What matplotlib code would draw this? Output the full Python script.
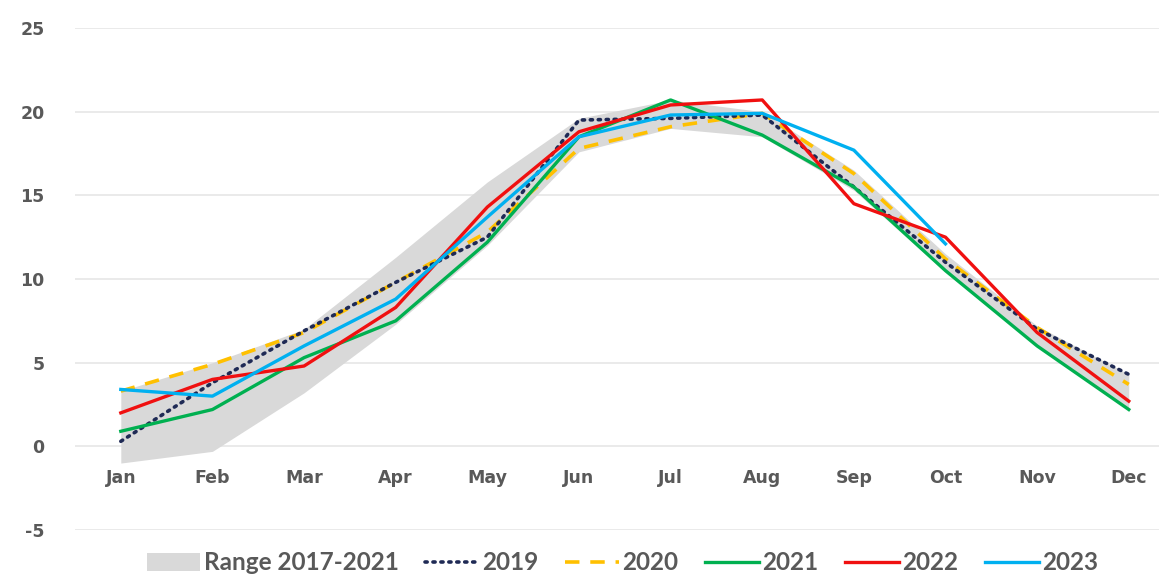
import matplotlib
matplotlib.use("Agg")
import matplotlib.pyplot as plt
from matplotlib.patches import Patch
from matplotlib.lines import Line2D

plt.rcParams["axes.unicode_minus"] = False

# data
months = ["Jan", "Feb", "Mar", "Apr", "May", "Jun", "Jul", "Aug", "Sep", "Oct", "Nov", "Dec"]
range_min = [-1.0, -0.3, 3.2, 7.3, 12.0, 17.6, 19.0, 18.5, 15.3, 10.4, 6.0, 2.2]
range_max = [3.3, 5.0, 7.0, 11.3, 15.8, 19.6, 20.7, 20.0, 16.5, 11.5, 7.2, 4.3]
y2019 = [0.3, 3.8, 6.9, 9.8, 12.5, 19.5, 19.6, 19.8, 15.5, 11.0, 7.0, 4.3]
y2020 = [3.3, 4.9, 6.8, 9.8, 12.8, 17.8, 19.1, 19.9, 16.3, 11.2, 7.1, 3.7]
y2021 = [0.9, 2.2, 5.3, 7.5, 12.2, 18.5, 20.7, 18.6, 15.5, 10.5, 6.0, 2.2]
y2022 = [2.0, 4.0, 4.8, 8.3, 14.3, 18.8, 20.4, 20.7, 14.5, 12.5, 6.8, 2.7]
y2023 = [3.4, 3.0, 6.0, 8.8, 13.7, 18.5, 19.8, 19.9, 17.7, 12.1]

x = list(range(len(months)))

fig = plt.figure(figsize=(11.59, 5.85), dpi=100)
ax = fig.add_axes([75 / 1159, 1 - 530 / 585, 1 - 75 / 1159, (530 - 28) / 585])

ax.fill_between(x, range_min, range_max, color="#d9d9d9", lw=0, zorder=1)
ax.plot(x, y2019, color="#1f2a55", lw=2.6, ls=(0, (0.6, 1.6)), dash_capstyle="round", zorder=3)
ax.plot(x, y2020, color="#ffc000", lw=2.6, ls=(0, (4, 3)), zorder=2)
ax.plot(x, y2021, color="#00b050", lw=2.4, zorder=3)
ax.plot(x, y2022, color="#f01010", lw=2.4, zorder=4)
ax.plot(x[:len(y2023)], y2023, color="#00b0f0", lw=2.4, zorder=4)

ax.set_xlim(-0.5, 11.33)
ax.set_ylim(-5, 25)
ax.set_yticks([-5, 0, 5, 10, 15, 20, 25])
ax.grid(axis="y", color="#e6e6e6", lw=1.2, zorder=0)
ax.set_axisbelow(True)
for s in ax.spines.values():
    s.set_visible(False)
ax.spines["bottom"].set_position(("data", 0))

ax.set_xticks(x)
ax.set_xticklabels(months)
ax.tick_params(axis="x", length=0, pad=16)
ax.tick_params(axis="y", length=0, pad=22)
for lab in ax.get_xticklabels() + ax.get_yticklabels():
    lab.set_fontweight("bold")
    lab.set_color("#595959")
    lab.set_fontsize(12.5)
    lab.set_family("DejaVu Sans")

handles = [
    Patch(facecolor="#d9d9d9", edgecolor="none"),
    Line2D([], [], color="#1f2a55", lw=2.6, ls=(0, (0.6, 1.6)), dash_capstyle="round"),
    Line2D([], [], color="#ffc000", lw=2.6, ls=(0, (4, 3))),
    Line2D([], [], color="#00b050", lw=2.4),
    Line2D([], [], color="#f01010", lw=2.4),
    Line2D([], [], color="#00b0f0", lw=2.4),
]
labels = ["Range 2017-2021", "2019", "2020", "2021", "2022", "2023"]
fig.legend(handles, labels, loc="center", bbox_to_anchor=(0.537, 1 - 563 / 585), ncol=6,
           frameon=False, handlelength=2.2, handletextpad=0.15, columnspacing=1.1,
           prop={"family": "Lato", "weight": "bold", "size": 17.5}, labelcolor="#595959")

fig.savefig("out.png", dpi=100)
